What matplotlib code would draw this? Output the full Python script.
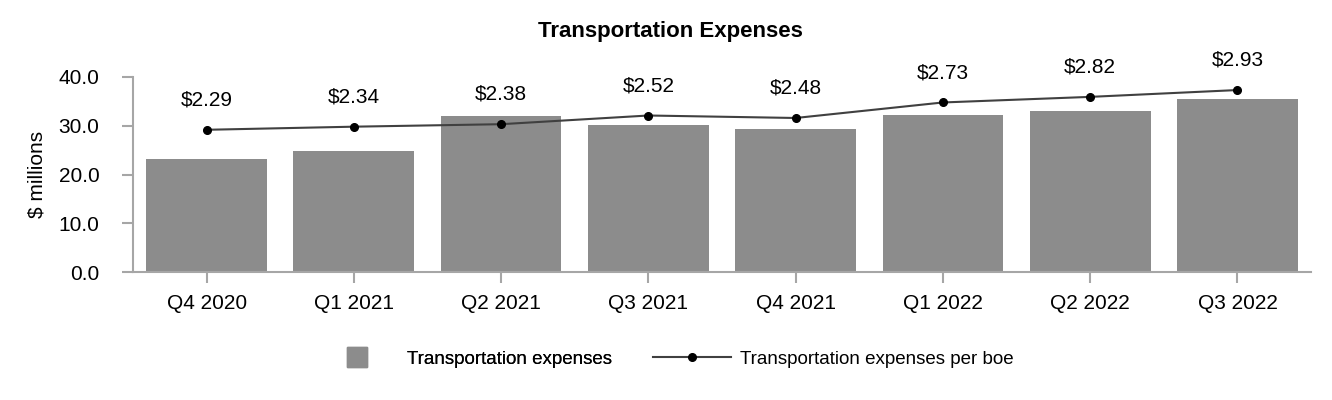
import matplotlib
matplotlib.use("Agg")
import matplotlib.pyplot as plt
from matplotlib.lines import Line2D

plt.rcParams['font.family'] = ['Liberation Sans', 'DejaVu Sans']

# Data
quarters = ["Q4 2020", "Q1 2021", "Q2 2021", "Q3 2021",
            "Q4 2021", "Q1 2022", "Q2 2022", "Q3 2022"]
expenses = [23.2, 24.9, 31.9, 30.2, 29.4, 32.2, 33.0, 35.5]
per_boe = [2.29, 2.34, 2.38, 2.52, 2.48, 2.73, 2.82, 2.93]

bar_color = "#8c8c8c"
spine_color = "#a6a6a6"
line_color = "#404040"

fig = plt.figure(figsize=(13.32, 4.0), dpi=100)
ax = fig.add_axes([0.0998, 0.32, 0.8845, 0.4875])

x = range(len(quarters))
ax.bar(x, expenses, width=0.82, color=bar_color, zorder=2)
ax.set_xlim(-0.5, len(quarters) - 0.5)
ax.set_ylim(0, 40)
ax.set_yticks([0, 10, 20, 30, 40])
ax.set_yticklabels(["%.1f" % v for v in [0, 10, 20, 30, 40]])
ax.set_xticks(list(x))
ax.set_xticklabels(quarters)
ax.tick_params(axis='both', labelsize=15, length=8, width=1.5,
               color=spine_color, labelcolor='black')
ax.tick_params(axis='x', pad=8)
ax.tick_params(axis='y', pad=16)
for s in ['top', 'right']:
    ax.spines[s].set_visible(False)
for s in ['left', 'bottom']:
    ax.spines[s].set_color(spine_color)
    ax.spines[s].set_linewidth(1.5)
ax.set_ylabel("\\$ millions", fontsize=15, labelpad=9)

# Secondary (hidden) axis for the per boe line
ax2 = ax.twinx()
ax2.set_ylim(0, 3.14)
ax2.plot(list(x), per_boe, color=line_color, lw=1.5, marker='o',
         markersize=5.5, markerfacecolor='black', markeredgecolor='black')
for xi, v in zip(x, per_boe):
    ax2.annotate("\\$%.2f" % v, (xi, v), textcoords='offset points',
                 xytext=(0, 21.5), ha='center', va='center', fontsize=15)
ax2.axis('off')

fig.text(670 / 1332, 1 - 31 / 400, "Transportation Expenses", ha='center',
         va='center', fontsize=16, fontweight='bold')

# Legend
h1 = Line2D([], [], marker='s', ls='', color=bar_color, markersize=14)
leg1 = fig.legend(handles=[h1], labels=["Transportation expenses"],
                  loc='center left', bbox_to_anchor=(348 / 1332, 1 - 359 / 400),
                  frameon=False, fontsize=13.5, handlelength=1.0,
                  handletextpad=2.13, borderpad=0, borderaxespad=0)
h2 = Line2D([], [], color=line_color, lw=1.5, marker='o', markersize=5.5,
            markerfacecolor='black', markeredgecolor='black')
fig.legend(handles=[h2], labels=["Transportation expenses per boe"],
           loc='center left', bbox_to_anchor=(653 / 1332, 1 - 359 / 400),
           frameon=False, fontsize=13.5, handlelength=4.16,
           handletextpad=0.48, borderpad=0, borderaxespad=0)
fig.add_artist(leg1)

fig.savefig("out.png", dpi=100)
